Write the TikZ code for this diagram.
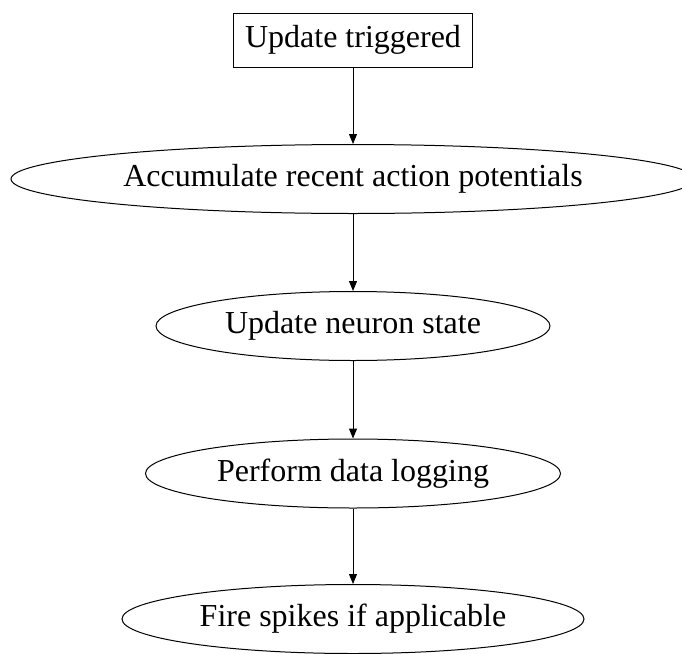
\documentclass[tikz,border=0pt]{standalone}
\usepackage{fontspec}
\setmainfont{Liberation Serif}
\usetikzlibrary{shapes.geometric,arrows.meta}
\tikzset{
  flowbox/.style={draw, line width=1pt, rectangle, inner sep=0pt, font=\fontsize{32}{36}\selectfont},
  flowell/.style={draw, line width=1pt, ellipse, inner sep=0pt, minimum height=69pt, font=\fontsize{32}{36}\selectfont},
  flowarrow/.style={line width=1pt, -{Triangle[length=10pt,width=8pt]}}
}
\begin{document}
\begin{tikzpicture}[x=1pt,y=-1pt]
\useasboundingbox (0,0) rectangle (682,653);
\clip (0,0) rectangle (682,653);
\node[flowbox, minimum width=239pt, minimum height=54pt] (trig) at (353,40) {Update triggered};
\node[flowell, minimum width=684pt] (acc) at (353,179) {Accumulate recent action potentials};
\node[flowell, minimum width=394pt] (upd) at (353,326) {Update neuron state};
\node[flowell, minimum width=415pt] (log) at (353,473.5) {Perform data logging};
\node[flowell, minimum width=462pt] (fire) at (353,619) {Fire spikes if applicable};
\draw[flowarrow] (trig.south) -- (acc.north);
\draw[flowarrow] (acc.south) -- (upd.north);
\draw[flowarrow] (upd.south) -- (log.north);
\draw[flowarrow] (log.south) -- (fire.north);
\end{tikzpicture}
\end{document}
